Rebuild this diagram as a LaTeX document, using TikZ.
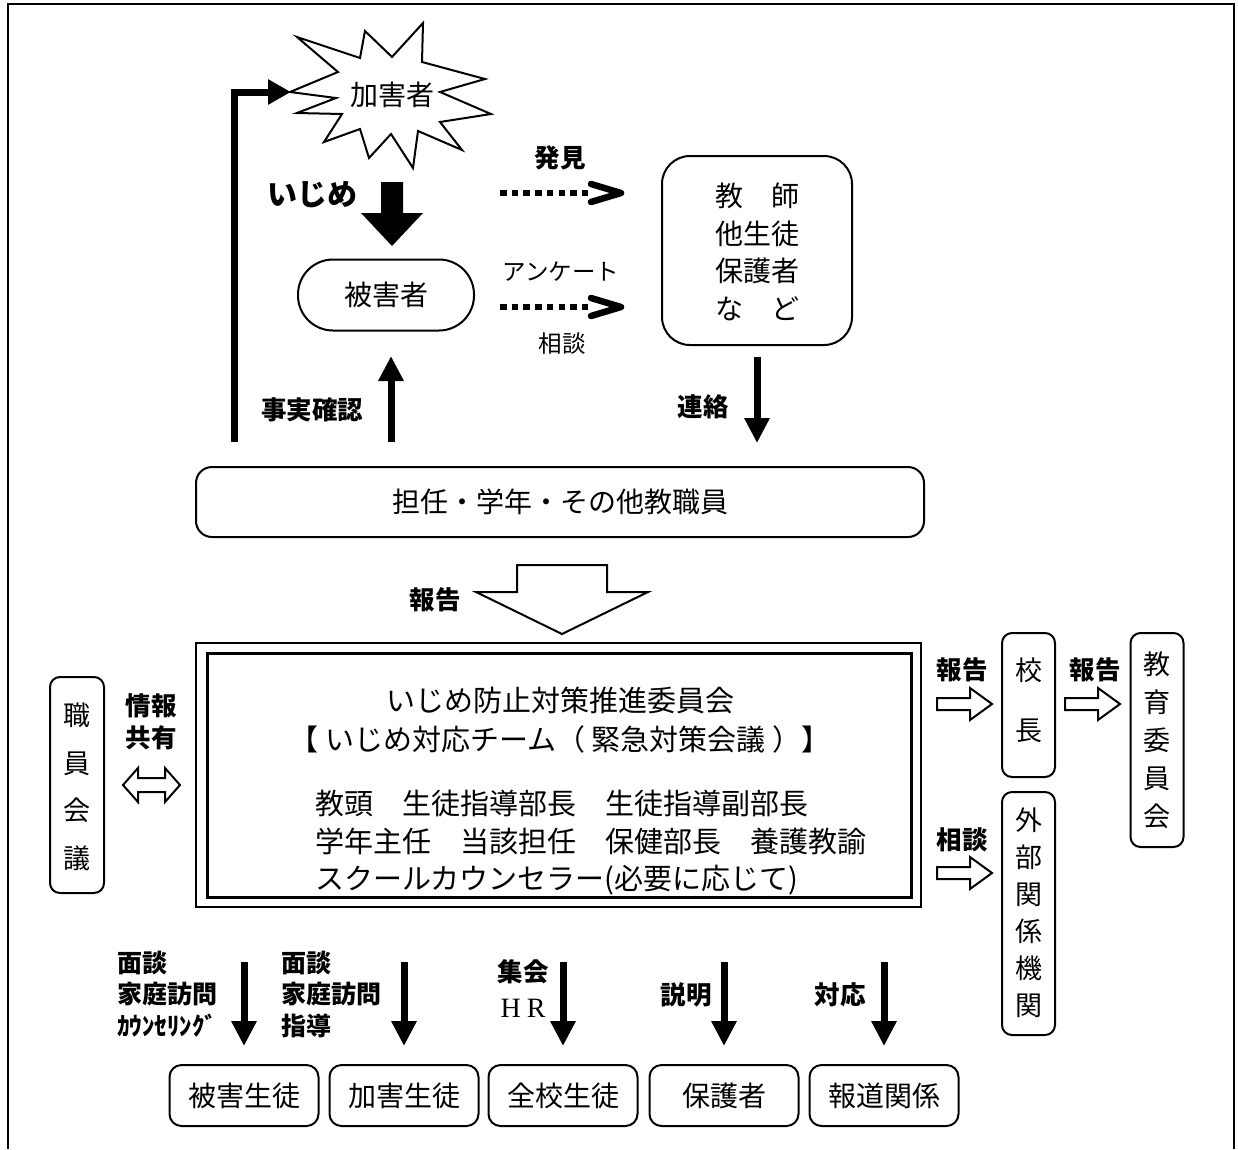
\documentclass[tikz,border=0pt]{standalone}
\usepackage{fontspec}
\newfontfamily\jp{Noto Sans CJK JP}
\newfontfamily\latinserif{Liberation Serif}
\usetikzlibrary{arrows.meta}
\tikzset{
  tx/.style={font=\jp\fontsize{28}{36}\selectfont, inner sep=0pt, align=center},
  lb/.style={font=\jp\bfseries\fontsize{25.5}{30}\selectfont, inner sep=0pt, align=center},
  sm/.style={font=\jp\fontsize{23.5}{28}\selectfont, inner sep=0pt},
  bx/.style={draw, line width=2pt, rounded corners=#1, inner sep=0pt},
  bx/.default=12pt,
  thinarrow/.style={line width=7pt, -{Triangle[length=25pt,width=24pt]}},
  hollow/.style={draw, line width=2pt, fill=white, line join=miter},
  dotline/.style={line width=6.5pt, dash pattern=on 6.5pt off 5.2pt},
  chevron/.style={line width=6.5pt, line cap=round, line join=round},
  pics/rhollow/.style={code={\draw[hollow] (0,-6) -- (33,-6) -- (33,-16) -- (55,0) -- (33,16) -- (33,6) -- (0,6) -- cycle;}},
}
\begin{document}
\begin{tikzpicture}[x=1pt,y=-1pt]
\useasboundingbox (0,0) rectangle (1238,1149);
% outer frame (open at bottom)
\draw[line width=2.5pt] (8,1149) -- (8,4) -- (1234,4) -- (1234,1149);

% perpetrator starburst
\draw[line width=2pt, line join=miter, fill=white]
  (290,92) -- (338,72) -- (297,37) -- (360,58) -- (365,31) -- (392,57) -- (423,23) -- (422,62)
  -- (485,79) -- (440,92) -- (491,114) -- (440,122) -- (462,150) -- (418,131) -- (413,168)
  -- (391,134) -- (369,158) -- (360,129) -- (324,142) -- (342,114) -- (297,113) -- (336,98) -- cycle;
\node[tx] (harm) at (392,95) {加害者};

% bully label and block arrow
\node[lb, font=\jp\bfseries\fontsize{30}{34}\selectfont] (ijime) at (312,195) {いじめ};
\fill (381,182) -- (403,182) -- (403,213) -- (423,213) -- (392,246) -- (361,213) -- (381,213) -- cycle;

% victim
\node[bx=35pt, tx, minimum width=176pt, minimum height=71pt] (victim) at (386,295) {被害者};

% teachers etc.
\node[bx=28pt, minimum width=190pt, minimum height=189pt] (others) at (757,250.5) {};
\node[tx, font=\jp\fontsize{28}{37.5}\selectfont] (otherstxt) at (757,252) {教　師\\他生徒\\保護者\\な　ど};

% dotted arrows
\coordinate (d1s) at (500,193);
\coordinate (d1e) at (588,193);
\coordinate (d2s) at (500,307);
\coordinate (d2e) at (588,307);
\draw[dotline] (d1s) -- (d1e);
\draw[chevron] (591,184) -- (621,193) -- (591,202);
\draw[dotline] (d2s) -- (d2e);
\draw[chevron] (591,298) -- (621,307) -- (591,316);
\node[lb] (found) at (560,158) {発見};
\node[sm] (survey) at (561,272) {アンケート};
\node[sm] (consult1) at (562,344) {相談};

% homeroom etc. box
\node[bx=16pt, tx, minimum width=728pt, minimum height=70pt] (staff) at (560,502) {担任・学年・その他教職員};

% fact check arrow and bent arrow
\coordinate (fcb) at (391,442);
\coordinate (fct) at (391,356);
\draw[thinarrow] (fcb) -- (fct);
\node[lb] (fact) at (312,410) {事実確認};
\coordinate (bent0) at (234,442);
\coordinate (bent1) at (291,92);
\draw[line width=7pt, -{Triangle[length=23pt,width=24pt]}] (bent0) |- (bent1);

% contact arrow
\coordinate (ctt) at (757,357);
\coordinate (ctb) at (757,443);
\draw[thinarrow] (ctt) -- (ctb);
\node[lb] (contact) at (703,407) {連絡};

% report hollow arrow
\draw[hollow] (517,565) -- (607,565) -- (607,592) -- (648,592) -- (562,634) -- (476,592) -- (517,592) -- cycle;
\node[lb] (report0) at (435,600) {報告};

% committee double box
\node[draw, line width=2pt, minimum width=725pt, minimum height=264pt, inner sep=0pt] (committee) at (558.5,775) {};
\draw[line width=3pt] (207,653) rectangle (911,897);
\node[tx, font=\jp\fontsize{29}{36}\selectfont] (c1) at (560,700) {いじめ防止対策推進委員会};
\node[tx, font=\jp\fontsize{29}{36}\selectfont] (c2) at (560,739) {【 いじめ対応チーム（ 緊急対策会議 ）】};
\node[tx, font=\jp\fontsize{29}{37.5}\selectfont, align=left, anchor=west] (c3) at (315,843) {教頭　生徒指導部長　生徒指導副部長\\学年主任　当該担任　保健部長　養護教諭\\スクールカウンセラー(必要に応じて)};

% staff meeting
\node[bx=10pt, minimum width=54pt, minimum height=216pt] (meeting) at (77,785) {};
\node[tx, font=\jp\fontsize{27}{47.5}\selectfont] (meetingtxt) at (77,787) {職\\員\\会\\議};
\node[lb, font=\jp\bfseries\fontsize{25.5}{32}\selectfont] (share) at (151,722) {情報\\共有};
\draw[hollow] (123,785) -- (138,768) -- (138,778) -- (165,778) -- (165,768) -- (180,785) -- (165,802) -- (165,792) -- (138,792) -- (138,802) -- cycle;

% principal, board, external
\node[bx=10pt, minimum width=53pt, minimum height=144pt] (principal) at (1028.5,705) {};
\node[tx, font=\jp\fontsize{27}{60}\selectfont] (principaltxt) at (1028.5,700) {校\\長};
\node[bx=10pt, minimum width=53pt, minimum height=243pt] (external) at (1028.5,913.5) {};
\node[tx, font=\jp\fontsize{27}{37}\selectfont] (externaltxt) at (1028.5,913) {外\\部\\関\\係\\機\\関};
\node[bx=10pt, minimum width=53pt, minimum height=214pt] (board) at (1157,740) {};
\node[tx, font=\jp\fontsize{27}{38}\selectfont] (boardtxt) at (1157,740) {教\\育\\委\\員\\会};
\pic at (937,704) {rhollow};
\pic at (1065,704) {rhollow};
\pic at (937,873) {rhollow};
\node[lb] (report1) at (962,670) {報告};
\node[lb] (report2) at (1095,670) {報告};
\node[lb] (consult2) at (962,840) {相談};

% bottom arrows and boxes
\foreach \i/\x in {1/244,2/404,3/563,4/724,5/884}{
  \coordinate (top\i) at (\x,962);
  \coordinate (tip\i) at (\x,1046);
  \draw[thinarrow] (top\i) -- (tip\i);
}
\node[bx, tx, minimum width=149pt, minimum height=61pt] (b1) at (244,1095.5) {被害生徒};
\node[bx, tx, minimum width=149pt, minimum height=61pt] (b2) at (404,1095.5) {加害生徒};
\node[bx, tx, minimum width=149pt, minimum height=61pt] (b3) at (563,1095.5) {全校生徒};
\node[bx, tx, minimum width=149pt, minimum height=61pt] (b4) at (724,1095.5) {保護者};
\node[bx, tx, minimum width=149pt, minimum height=61pt] (b5) at (884,1095.5) {報道関係};

\node[lb, font=\jp\bfseries\fontsize{25}{31.5}\selectfont, align=left, anchor=west] (l1) at (117,994) {面談\\家庭訪問\\ｶｳﾝｾﾘﾝｸﾞ};
\node[lb, font=\jp\bfseries\fontsize{25}{31.5}\selectfont, align=left, anchor=west] (l2) at (281,994) {面談\\家庭訪問\\指導};
\node[lb] (l3a) at (523,972) {集会};
\node[inner sep=0pt, font=\latinserif\fontsize{28}{30}\selectfont] (l3b) at (523,1008) {H\hspace{6pt}R};
\node[lb] (l4) at (686,995) {説明};
\node[lb] (l5) at (840,995) {対応};
\end{tikzpicture}
\end{document}
